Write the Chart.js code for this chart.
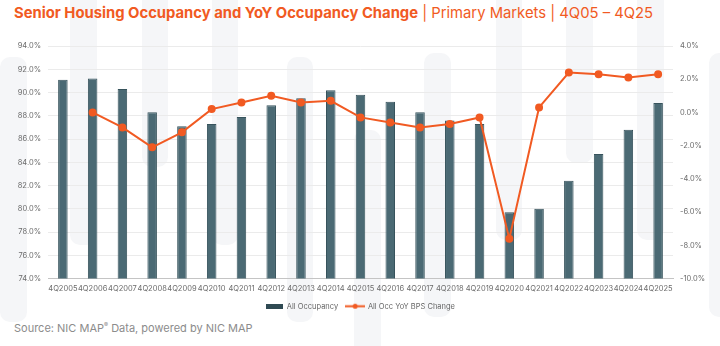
<!DOCTYPE html>
<html>
<head>
<meta charset="utf-8">
<title>Senior Housing Occupancy</title>
<script src="https://cdn.jsdelivr.net/npm/chart.js@4.4.1/dist/chart.umd.min.js"></script>
<style>
  html, body { margin: 0; padding: 0; background: #fff; }
  body { width: 720px; height: 346px; position: relative; overflow: hidden; font-family: Inter, 'Noto Sans', sans-serif; }
  .stripe { position: absolute; background: #f5f6f8; border-radius: 10px; }
  #title { position: absolute; left: 14px; top: 4px; font-size: 14.8px; color: #f15a22; white-space: nowrap; }
  #title b { font-weight: 700; }
  #source { position: absolute; left: 14px; top: 321px; font-size: 11px; color: #8c8c8c; white-space: nowrap; }
  #wrap { position: absolute; left: 0; top: 0; width: 720px; height: 320px; }
</style>
</head>
<body>
<div id="stripes"></div>
<div id="title"><b>Senior Housing Occupancy and YoY Occupancy Change</b> | Primary Markets | 4Q05 – 4Q25</div>
<div id="wrap"><canvas id="occChart"></canvas></div>
<div id="source">Source: NIC MAP<sup style="font-size:6px">®</sup> Data, powered by NIC MAP</div>
<script>
// Quarterly data, primary markets
const quarters = ['4Q2005', '4Q2006', '4Q2007', '4Q2008', '4Q2009', '4Q2010', '4Q2011',
    '4Q2012', '4Q2013', '4Q2014', '4Q2015', '4Q2016', '4Q2017', '4Q2018', '4Q2019',
    '4Q2020', '4Q2021', '4Q2022', '4Q2023', '4Q2024', '4Q2025'];
const occupancy = [91.1, 91.2, 90.3, 88.3, 87.1, 87.3, 87.9, 88.9, 89.5, 90.2, 89.8,
    89.2, 88.3, 87.6, 87.3, 79.7, 80.0, 82.4, 84.7, 86.8, 89.1];
const yoyChange = [null, 0.0, -0.9, -2.1, -1.2, 0.2, 0.6, 1.0, 0.6, 0.7, -0.3,
    -0.6, -0.9, -0.7, -0.3, -7.6, 0.3, 2.4, 2.3, 2.1, 2.3];
const occAxis = { min: 74, max: 94, step: 2 };
const yoyAxis = { min: -10, max: 4, step: 2 };

const barColor = '#4b6a74';
const lineColor = '#f15a22';
const tickColor = '#6b6b6b';

// faint background stripes
const stripes = [[0, 57, 27, 265], [70, -12, 27, 257], [142, -12, 26, 179], [212, -12, 26, 257],
    [287, 57, 26, 265], [354, 130, 27, 240], [424, 53, 27, 264], [496, -12, 26, 252],
    [566, -12, 27, 175], [637, -12, 27, 252], [709, 53, 27, 264]];
const stripeBox = document.getElementById('stripes');
stripes.forEach(s => {
    const d = document.createElement('div');
    d.className = 'stripe';
    d.style.left = s[0] + 'px';
    d.style.top = s[1] + 'px';
    d.style.width = s[2] + 'px';
    d.style.height = s[3] + 'px';
    stripeBox.appendChild(d);
});

// legend swatches
function barSwatch() {
    const c = document.createElement('canvas');
    c.width = 17; c.height = 5;
    const g = c.getContext('2d');
    g.fillStyle = '#2f4a53';
    g.fillRect(0, 0, 17, 5);
    return c;
}
function lineSwatch() {
    const c = document.createElement('canvas');
    c.width = 20; c.height = 7;
    const g = c.getContext('2d');
    g.strokeStyle = lineColor;
    g.lineWidth = 2;
    g.beginPath(); g.moveTo(0, 3.5); g.lineTo(20, 3.5); g.stroke();
    g.fillStyle = lineColor;
    g.beginPath(); g.arc(10, 3.5, 2.5, 0, Math.PI * 2); g.fill();
    return c;
}
const swatches = [barSwatch(), lineSwatch()];

const pct = v => v.toFixed(1) + '%';

new Chart(document.getElementById('occChart'), {
    data: {
        labels: quarters,
        datasets: [{
            type: 'bar',
            label: 'All Occupancy',
            data: occupancy,
            backgroundColor: barColor,
            borderColor: '#37535c',
            borderWidth: 1,
            categoryPercentage: 1,
            barPercentage: 0.32,
            yAxisID: 'y',
            order: 2
        }, {
            type: 'line',
            label: 'All Occ YoY BPS Change',
            data: yoyChange,
            borderColor: lineColor,
            backgroundColor: lineColor,
            borderWidth: 2,
            pointRadius: 3,
            pointHoverRadius: 3,
            tension: 0,
            yAxisID: 'y1',
            order: 1
        }]
    },
    options: {
        responsive: true,
        maintainAspectRatio: false,
        animation: false,
        layout: { padding: { top: 46, left: 0, right: 0, bottom: 0 } },
        plugins: {
            title: { display: false },
            tooltip: { enabled: false },
            legend: {
                position: 'bottom',
                labels: {
                    usePointStyle: true,
                    pointStyleWidth: 18,
                    padding: 8,
                    color: '#666',
                    font: { family: 'Inter', size: 7.5 },
                    sort: (a, b) => a.datasetIndex - b.datasetIndex,
                    generateLabels: function(chart) {
                        const items = Chart.defaults.plugins.legend.labels.generateLabels(chart);
                        items.forEach(it => { it.pointStyle = swatches[it.datasetIndex]; });
                        return items;
                    }
                }
            }
        },
        scales: {
            x: {
                grid: { display: false, drawTicks: false },
                border: { display: true, color: '#c4c4c4' },
                ticks: { color: tickColor, font: { family: 'Inter', size: 7.5 }, maxRotation: 0, autoSkip: false, padding: 6 },
                afterFit: s => { s.height = 16; }
            },
            y: {
                position: 'left',
                min: occAxis.min, max: occAxis.max,
                ticks: { stepSize: occAxis.step, callback: pct, color: tickColor, font: { family: 'Inter', size: 7.5 }, padding: 7 },
                grid: { color: '#ebebeb', drawTicks: false },
                border: { display: false },
                afterFit: s => { s.width = 48; }
            },
            y1: {
                position: 'right',
                min: yoyAxis.min, max: yoyAxis.max,
                ticks: { stepSize: yoyAxis.step, callback: pct, color: tickColor, font: { family: 'Inter', size: 7.5 }, padding: 7 },
                grid: { display: false, drawTicks: false },
                border: { display: false },
                afterFit: s => { s.width = 47; }
            }
        }
    }
});
</script>
</body>
</html>
